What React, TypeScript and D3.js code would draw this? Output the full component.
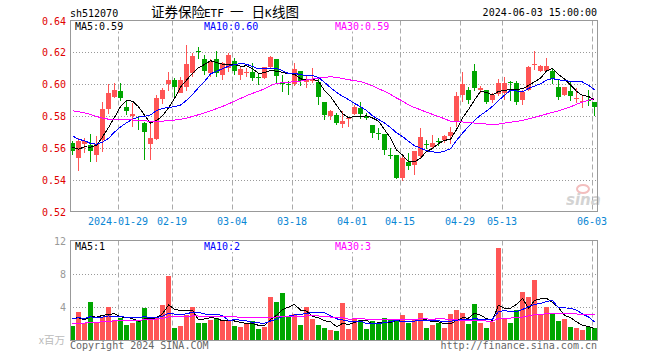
import React from "react";
import * as d3 from "d3";

// daily bars, 2024-01-17 .. 2024-06-03 (88 trading days)
const opens = [
  0.5629, 0.5538, 0.5625, 0.562, 0.5555, 0.5649, 0.5845, 0.592, 0.5958, 0.5854,
  0.5798, 0.5777, 0.5756, 0.5627, 0.5654, 0.5905, 0.5999, 0.6026, 0.5942, 0.5984,
  0.6068, 0.6208, 0.6158, 0.6068, 0.6158, 0.6058, 0.61, 0.6148, 0.6058, 0.6069,
  0.6075, 0.6046, 0.6038, 0.611, 0.6158, 0.601, 0.6, 0.5998, 0.6083, 0.6012,
  0.6018, 0.6015, 0.5888, 0.5802, 0.5806, 0.5748, 0.5779, 0.5815, 0.5852, 0.5798,
  0.5746, 0.5694, 0.5688, 0.5558, 0.5558, 0.541, 0.5512, 0.5492, 0.5548, 0.5627,
  0.5606, 0.5642, 0.5652, 0.5677, 0.5767, 0.5933, 0.5965, 0.6083, 0.5962, 0.5965,
  0.5898, 0.5938, 0.5944, 0.6013, 0.601, 0.5898, 0.5965, 0.6119, 0.6083, 0.6083,
  0.6083, 0.5985, 0.5933, 0.596, 0.5906, 0.5885, 0.5902, 0.5885,
];
const highs = [
  0.5646, 0.566, 0.566, 0.569, 0.5675, 0.589, 0.6004, 0.601, 0.601, 0.5902,
  0.5881, 0.5798, 0.576, 0.5756, 0.5932, 0.5978, 0.6074, 0.6036, 0.6047, 0.6246,
  0.6194, 0.6236, 0.6185, 0.6158, 0.6208, 0.6142, 0.6198, 0.6163, 0.611, 0.61,
  0.6131, 0.6069, 0.611, 0.6177, 0.616, 0.6058, 0.6017, 0.613, 0.6083, 0.605,
  0.61, 0.6035, 0.5888, 0.5838, 0.5819, 0.583, 0.5785, 0.5868, 0.5885, 0.5819,
  0.5746, 0.5725, 0.569, 0.56, 0.5558, 0.5558, 0.5565, 0.5579, 0.5725, 0.5652,
  0.5683, 0.5663, 0.5683, 0.5731, 0.5948, 0.6077, 0.5985, 0.6128, 0.599, 0.5965,
  0.5944, 0.6031, 0.6044, 0.6017, 0.6017, 0.5965, 0.6117, 0.6208, 0.6121, 0.6167,
  0.6094, 0.6027, 0.5985, 0.6017, 0.5975, 0.5923, 0.5965, 0.5885,
];
const lows = [
  0.5556, 0.5452, 0.557, 0.551, 0.551, 0.5576, 0.581, 0.5913, 0.5896, 0.5808,
  0.5731, 0.571, 0.5523, 0.5523, 0.565, 0.5875, 0.5959, 0.5921, 0.5942, 0.5959,
  0.6047, 0.6156, 0.6056, 0.6044, 0.6044, 0.6027, 0.6079, 0.6058, 0.6027, 0.6048,
  0.6017, 0.5996, 0.6031, 0.61, 0.6, 0.595, 0.593, 0.599, 0.599, 0.5975,
  0.601, 0.5871, 0.5777, 0.5773, 0.5746, 0.5725, 0.5728, 0.5804, 0.578, 0.5775,
  0.566, 0.5652, 0.5552, 0.5527, 0.5405, 0.5392, 0.5462, 0.543, 0.5537, 0.559,
  0.559, 0.561, 0.5631, 0.5621, 0.5731, 0.5885, 0.5875, 0.5954, 0.5944, 0.5877,
  0.5881, 0.5923, 0.5902, 0.5892, 0.5871, 0.5871, 0.5954, 0.609, 0.6079, 0.6079,
  0.6002, 0.5902, 0.5923, 0.5896, 0.5881, 0.585, 0.586, 0.5798,
];
const closes = [
  0.5583, 0.5646, 0.5645, 0.558, 0.5625, 0.5844, 0.5944, 0.5965, 0.5913, 0.5829,
  0.5815, 0.5771, 0.5698, 0.5663, 0.5911, 0.5963, 0.6026, 0.5984, 0.6026, 0.6127,
  0.6179, 0.62, 0.6085, 0.6146, 0.6068, 0.6131, 0.6183, 0.6085, 0.6096, 0.6079,
  0.6038, 0.6042, 0.6106, 0.6169, 0.605, 0.6006, 0.5996, 0.6094, 0.602, 0.6027,
  0.6028, 0.592, 0.5808, 0.5829, 0.5754, 0.5767, 0.5785, 0.5854, 0.5815, 0.5788,
  0.5696, 0.5688, 0.5585, 0.5554, 0.541, 0.5535, 0.5485, 0.5577, 0.5665, 0.5623,
  0.5631, 0.5638, 0.5677, 0.57, 0.5927, 0.5998, 0.59, 0.5977, 0.5975, 0.5885,
  0.5929, 0.6006, 0.601, 0.6006, 0.5885, 0.5948, 0.611, 0.6127, 0.6115, 0.6115,
  0.6031, 0.5919, 0.5985, 0.5927, 0.5915, 0.5896, 0.5894, 0.5856,
];
// volume, millions
const volumes = [
  1.7, 3.4, 2.1, 4.62, 2.1, 2.85, 4.05, 2.45, 2.72, 1.83,
  2.06, 2.4, 3.95, 2.7, 2.65, 4.27, 7.7, 1.5, 1.72, 3.05,
  4.05, 2.08, 2.08, 2.48, 2.68, 2.4, 2.36, 1.78, 1.6, 2.08,
  2.3, 1.36, 1.6, 5.25, 4.65, 5.75, 2.8, 3.22, 1.87, 4.05,
  2.6, 1.85, 1.45, 1.32, 1.09, 4.48, 1.33, 2.55, 2.42, 1.33,
  2.34, 2.02, 2.67, 2.55, 2.3, 3.03, 2.06, 2.55, 3.27, 1.45,
  1.82, 2.06, 1.45, 3.15, 3.64, 3.27, 1.94, 4.36, 2.06, 1.45,
  2.22, 11.15, 2.55, 2.06, 3.64, 5.82, 5.21, 7.27, 3.03, 4.0,
  3.27, 2.3, 2.55, 1.58, 1.45, 1.21, 1.58, 1.45,
];
// sessions before the visible window (only feed the moving averages)
const prevCloses = [
  0.5826, 0.5855, 0.588, 0.6015, 0.6144, 0.6154, 0.6055, 0.5943, 0.5829, 0.5845,
  0.5831, 0.5788, 0.5753, 0.5911, 0.5933, 0.5936, 0.5894, 0.5876, 0.5887, 0.5879,
  0.587, 0.5725, 0.5756, 0.5678, 0.5711, 0.5703, 0.5575, 0.5586, 0.5569,
];
const prevVolumes = [
  1.6, 1.9, 1.5, 1.7, 2.1, 1.4, 1.6, 1.8, 1.5, 2.0,
  1.7, 1.6, 1.9, 1.5, 1.8, 1.7, 1.6, 2.0, 1.8, 1.6,
  2.4, 2.9, 2.6, 3.1, 2.2, 2.8, 3.4, 2.5, 2.7,
];

const tickIdx = [8, 17, 27, 37, 47, 55, 65, 72, 87];
const tickLabels = ["2024-01-29", "02-19", "03-04", "03-18", "04-01", "04-15", "04-29", "05-13", "06-03"];
const priceTicks = [0.64, 0.62, 0.6, 0.58, 0.56, 0.54, 0.52];
const volTicks = [12, 8, 4];
const maPeriods = [5, 10, 30];
const maColors = ["#000000", "#0000ff", "#ff00ff"];

const RED = "#ff5555";
const GREEN = "#00a600";
const MONO = "'DejaVu Sans Mono', monospace";
const CJK = "'Noto Sans CJK SC', sans-serif";

function movingAvg(prev: number[], cur: number[], n: number) {
  const all = prev.concat(cur);
  const off = prev.length;
  return cur.map((_, i) => d3.mean(all.slice(off + i - n + 1, off + i + 1)) as number);
}

function Legend({ y, texts }: { y: number; texts: string[] }) {
  const xs = [75, 204, 335];
  return (
    <g>
      {texts.map((t, k) => (
        <g key={k}>
          <rect x={xs[k] - 1} y={y - 8} width={t.length * 6 + 2} height={10} fill="#fff" />
          <text x={xs[k]} y={y} fontFamily={MONO} fontSize={10} fill={maColors[k]}>{t}</text>
        </g>
      ))}
    </g>
  );
}

export default function App() {
  const left = 70, right = 598;
  const pTop = 20.5, pBot = 211.5;
  const vTop = 240.5, vBot = 340.5;
  const n = closes.length;

  const x = d3.scaleLinear().domain([0, n]).range([left, right]);
  const xc = (i: number) => x(i) + 2.5;
  const yP = d3.scaleLinear().domain([0.52, 0.64]).range([pBot, pTop]);
  const yV = d3.scaleLinear().domain([0, 12]).range([vBot, vTop]);

  const pMA = maPeriods.map(p => movingAvg(prevCloses, closes, p));
  const vMA = maPeriods.map(p => movingAvg(prevVolumes, volumes, p));

  const pLine = d3.line<number>().x((_, i) => xc(i)).y(d => yP(d));
  const vLine = d3.line<number>().x((_, i) => xc(i)).y(d => yV(d));

  const up = closes.map((c, i) => c >= opens[i]);
  const last = (a: number[]) => a[a.length - 1];

  const vLines = (y0: number, y1: number) =>
    tickIdx.map(i => (
      <line key={i} x1={Math.round(x(i)) + 0.5} x2={Math.round(x(i)) + 0.5} y1={y0} y2={y1}
        stroke="#aaa" strokeDasharray="5,3" />
    ));

  return (
    <svg width={660} height={360} style={{ position: "absolute", left: 0, top: 0, background: "#fff" }}>
      {/* header */}
      <text x={70} y={16.5} fontFamily={MONO} fontSize={10} fill="#000">sh512070</text>
      <text y={17} fontSize={13.5} fill="#000" fontFamily={CJK}>
        <tspan x={151}>证券保险</tspan>
        <tspan x={204} fontFamily={MONO} fontSize={11}>ETF</tspan>
        <tspan x={230}>一</tspan>
        <tspan x={251.5}>日</tspan>
        <tspan x={265} fontFamily={MONO} fontSize={11}>K</tspan>
        <tspan x={272}>线图</tspan>
      </text>
      <text x={597} y={16} fontFamily={MONO} fontSize={10} fill="#000" textAnchor="end">2024-06-03 15:00:00</text>

      {/* price panel grid */}
      {priceTicks.slice(1, -1).map(t => (
        <line key={t} x1={left} x2={597} y1={Math.round(yP(t)) + 0.5} y2={Math.round(yP(t)) + 0.5}
          stroke="#999" strokeDasharray="1,2" />
      ))}
      {vLines(pTop, pBot)}
      {priceTicks.map(t => (
        <text key={t} x={66} y={yP(t) + 4} fontFamily={MONO} fontSize={10} fill="#e00000" textAnchor="end">
          {t.toFixed(2)}
        </text>
      ))}

      {/* sina logo */}
      <g opacity={0.9}>
        <ellipse cx={583} cy={189} rx={6} ry={4} fill="none" stroke="#f2b8b8" strokeWidth={2} />
        <text x={566} y={205} fontFamily="'DejaVu Sans', sans-serif" fontSize={15} fontWeight="bold"
          fontStyle="italic" fill="#cfcfcf">sina</text>
      </g>

      {/* candles */}
      <g shapeRendering="crispEdges">
        {closes.map((c, i) => {
          const o = opens[i];
          const col = up[i] ? RED : GREEN;
          const yt = Math.round(yP(Math.max(o, c)));
          const yb = Math.round(yP(Math.min(o, c)));
          const yh = Math.round(yP(highs[i]));
          const yl = Math.round(yP(lows[i]));
          return (
            <g key={i}>
              <rect x={x(i) + 2} y={yh} width={1} height={Math.max(1, yl - yh)} fill={col} />
              <rect x={x(i)} y={yt} width={5} height={Math.max(1, yb - yt)} fill={col} />
            </g>
          );
        })}
      </g>
      {pMA.map((m, k) => (
        <path key={k} d={pLine(m) || ""} fill="none" stroke={maColors[k]} strokeWidth={1} shapeRendering="crispEdges" />
      ))}
      <Legend y={29.5} texts={[
        `MA5:${last(pMA[0]).toFixed(2)}`,
        `MA10:${last(pMA[1]).toFixed(2)}`,
        `MA30:${last(pMA[2]).toFixed(2)}`,
      ]} />
      <rect x={70.5} y={pTop} width={527} height={pBot - pTop} fill="none" stroke="#999" />

      {/* date labels */}
      {tickIdx.map((i, k) => (
        <text key={i} x={Math.round(x(i))} y={225} fontFamily={MONO} fontSize={10} fill="#0a86d4" textAnchor="middle">
          {tickLabels[k]}
        </text>
      ))}

      {/* volume panel */}
      {volTicks.slice(1).map(t => (
        <line key={t} x1={left} x2={597} y1={Math.round(yV(t)) + 0.5} y2={Math.round(yV(t)) + 0.5}
          stroke="#999" strokeDasharray="1,2" />
      ))}
      {vLines(vTop, vBot)}
      {volTicks.map(t => (
        <text key={t} x={66} y={yV(t) + 4} fontFamily={MONO} fontSize={10} fill="#999" textAnchor="end">{t}</text>
      ))}
      <text x={65} y={344} fontFamily={CJK} fontSize={10.5} fill="#bbb" textAnchor="end">x百万</text>
      <g shapeRendering="crispEdges">
        {volumes.map((v, i) => (
          <rect key={i} x={x(i)} y={Math.round(yV(v))} width={5} height={vBot - 0.5 - Math.round(yV(v))}
            fill={up[i] ? RED : GREEN} />
        ))}
      </g>
      {vMA.map((m, k) => (
        <path key={k} d={vLine(m) || ""} fill="none" stroke={maColors[k]} strokeWidth={1} shapeRendering="crispEdges" />
      ))}
      <Legend y={250} texts={[
        `MA5:${Math.round(last(vMA[0]))}`,
        `MA10:${Math.round(last(vMA[1]))}`,
        `MA30:${Math.round(last(vMA[2]))}`,
      ]} />
      <rect x={70.5} y={vTop} width={527} height={vBot - vTop} fill="none" stroke="#999" />

      <text x={70} y={349} fontFamily={MONO} fontSize={10} fill="#666">Copyright 2024 SINA.COM</text>
      <text x={597} y={349} fontFamily={MONO} fontSize={10} fill="#666" textAnchor="end">http://finance.sina.com.cn</text>
    </svg>
  );
}
